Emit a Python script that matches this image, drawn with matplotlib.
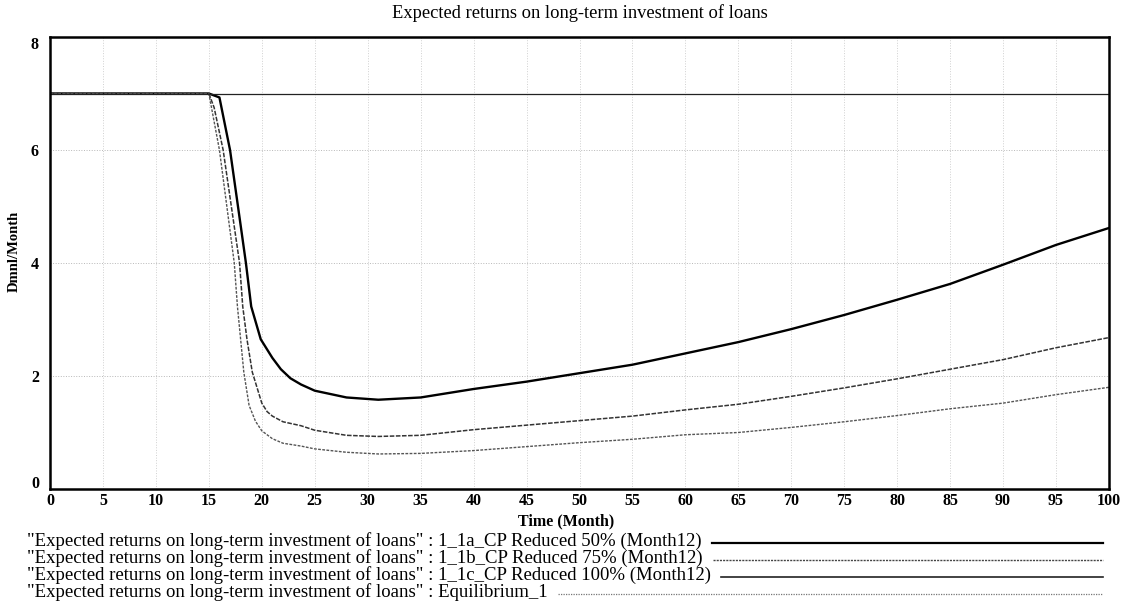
import numpy as np
import matplotlib
matplotlib.use('Agg')
import matplotlib.pyplot as plt
import matplotlib.transforms as mtransforms
from matplotlib.lines import Line2D

plt.rcParams['font.family'] = ['Liberation Serif', 'DejaVu Serif']

############################ DATA #########################################
title = 'Expected returns on long-term investment of loans'
var_name = '"Expected returns on long-term investment of loans"'
run_names = ['1_1a_CP Reduced 50% (Month12)',
             '1_1b_CP Reduced 75% (Month12)',
             '1_1c_CP Reduced 100% (Month12)',
             'Equilibrium_1']

t_a = [0, 15, 16, 17, 18, 18.5, 19, 19.9, 21, 21.8, 22.7, 23.7, 25, 28, 31, 35, 40, 45, 50,
       55, 60, 65, 70, 75, 80, 85, 90, 95, 100]
v_a = [7.0, 7.0, 6.93, 6.0, 4.67, 4.0, 3.23, 2.65, 2.32, 2.12, 1.96, 1.85, 1.74, 1.62, 1.58,
       1.62, 1.77, 1.9, 2.05, 2.2, 2.4, 2.6, 2.83, 3.08, 3.35, 3.63, 3.97, 4.32, 4.62]

t_b = [0, 15, 15.5, 16.35, 17.9, 18.2, 18.6, 19.1, 20, 20.5, 21, 22, 23.7, 25, 28, 31, 35, 40,
       45, 50, 55, 60, 65, 70, 75, 80, 85, 90, 95, 100]
v_b = [7.0, 7.0, 6.75, 6.0, 4.0, 3.23, 2.65, 2.07, 1.52, 1.37, 1.29, 1.19, 1.12, 1.04, 0.95,
       0.93, 0.95, 1.05, 1.13, 1.21, 1.29, 1.4, 1.5, 1.64, 1.79, 1.95, 2.12, 2.29, 2.5, 2.68]

t_c = [0, 15, 16, 17.4, 17.7, 18, 18.3, 18.8, 19.4, 20, 21, 22, 23.7, 25, 28, 31, 35, 40, 45,
       50, 55, 60, 65, 70, 75, 80, 85, 90, 95, 100]
v_c = [7.0, 7.0, 6.0, 4.0, 3.23, 2.65, 2.07, 1.48, 1.2, 1.03, 0.89, 0.81, 0.76, 0.71, 0.65,
       0.62, 0.63, 0.68, 0.75, 0.82, 0.88, 0.96, 1.0, 1.09, 1.19, 1.3, 1.42, 1.52, 1.67, 1.8]

t_eq = [0, 100]
v_eq = [7.0, 7.0]
############################ DATA #########################################

styles = [dict(color='black', lw=1.7, ls='-'),
          dict(color='#333333', lw=1.1, ls=(0, (3, 1))),
          dict(color='#555555', lw=1.0, ls=(0, (2, 1))),
          dict(color='#222222', lw=0.9, ls='-')]
leg_styles = [dict(color='black', lw=1.6, ls='-'),
              dict(color='#444444', lw=1.0, ls=(0, (1.5, 0.8))),
              dict(color='#222222', lw=1.2, ls='-'),
              dict(color='#777777', lw=0.9, ls=(0, (1, 1)))]

fig = plt.figure(figsize=(11.22, 6.05), dpi=100)
ax = fig.add_axes([50 / 1122, 1 - 489 / 605, 1059 / 1122, 452 / 605])

series = [(t_a, v_a), (t_b, v_b), (t_c, v_c), (t_eq, v_eq)]
for (t, v), st in zip(series, styles):
    ax.plot(t, v, **st)

ax.set_xlim(0, 100)
ax.set_ylim(0, 8)
ax.set_xticks(np.arange(0, 101, 5))
ax.set_yticks([0, 2, 4, 6, 8])
ax.tick_params(length=0, labelsize=11.5)
ax.tick_params(axis='x', pad=3)
ax.tick_params(axis='y', pad=8)
for lab in ax.get_xticklabels() + ax.get_yticklabels():
    lab.set_fontweight('bold')
ax.xaxis.grid(True, ls=':', color='#d0d0d0', lw=0.7)
ax.yaxis.grid(True, ls=':', color='#b8b8b8', lw=0.7)
for s in ax.spines.values():
    s.set_linewidth(1.8)

# vensim squeezes the end labels of the y axis inward
ylabs = ax.get_yticklabels()
ylabs[0].set_transform(ylabs[0].get_transform() +
                       mtransforms.ScaledTranslation(0, 7 / 100, fig.dpi_scale_trans))
ylabs[-1].set_transform(ylabs[-1].get_transform() +
                        mtransforms.ScaledTranslation(0, -6 / 100, fig.dpi_scale_trans))

ax.set_title(title, fontsize=13.3, pad=14)
ax.set_xlabel('Time (Month)', fontsize=11.5, fontweight='bold', labelpad=1)
ax.xaxis.set_label_coords(0.487, -0.055)
ax.set_ylabel('Dmnl/Month', fontsize=10.5, fontweight='bold')
ax.yaxis.set_label_coords(-0.028, 0.525)

# vensim style legend under the plot
ys = [541, 558, 575, 592]
texts = []
for y, name in zip(ys, run_names):
    texts.append(fig.text(27 / 1122, 1 - y / 605, var_name + ' : ' + name,
                          fontsize=13.5, va='center', ha='left'))
fig.canvas.draw()
r = fig.canvas.get_renderer()
for txt, y, st in zip(texts, ys, leg_styles):
    bb = txt.get_window_extent(r)
    x0 = (bb.x1 + 10) / 1122
    fig.add_artist(Line2D([x0, 1103 / 1122], [1 - (y + 2) / 605] * 2,
                          transform=fig.transFigure, **st))

fig.savefig('out.png', dpi=100)
